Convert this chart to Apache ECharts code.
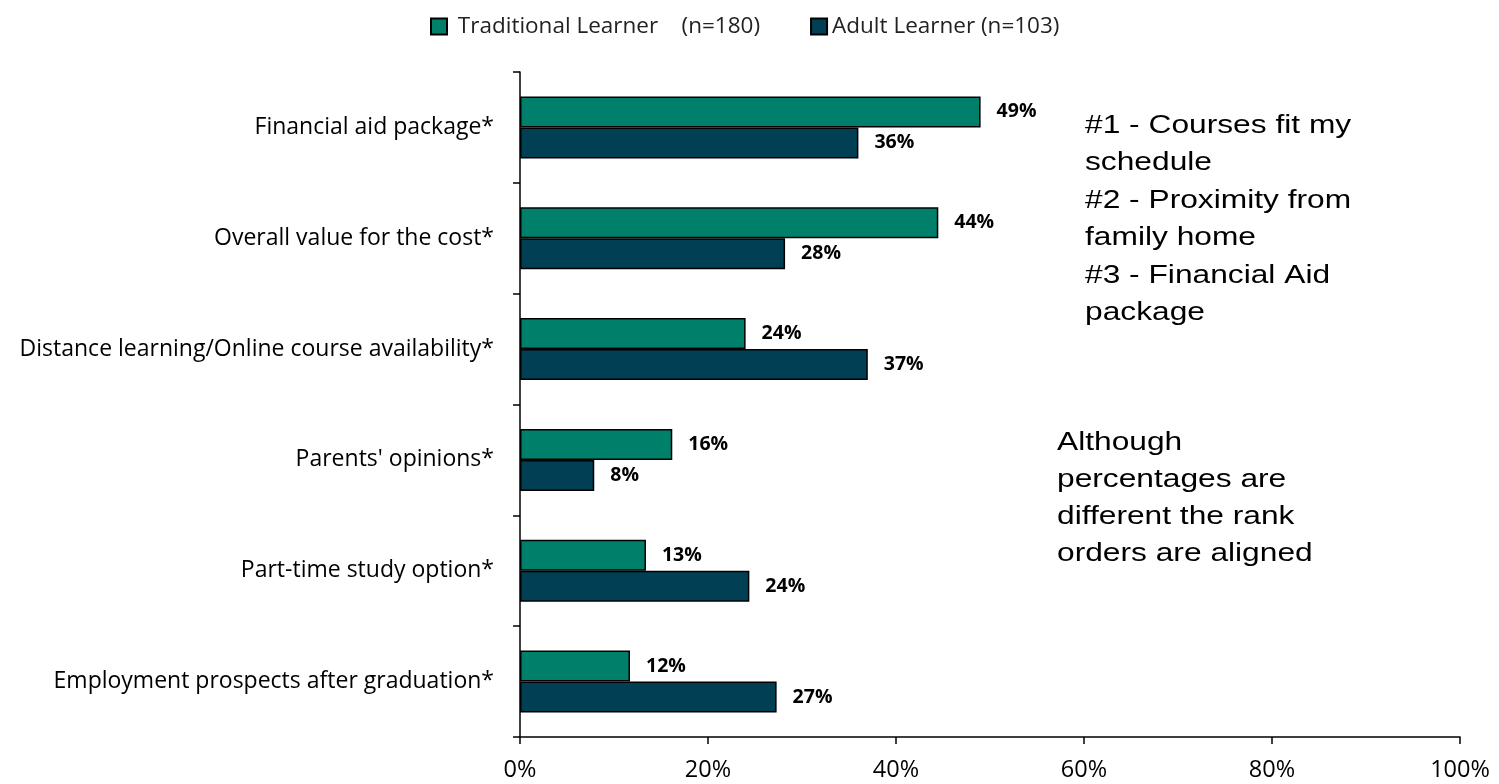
<!DOCTYPE html>
<html>
<head>
<meta charset="utf-8">
<script src="https://cdn.jsdelivr.net/npm/echarts@6/dist/echarts.min.js"></script>
<style>
html,body{margin:0;padding:0;background:#fff;}
#chart{width:1499px;height:784px;}
</style>
</head>
<body>
<div id="chart"></div>
<script>
var categories = [
  "Financial aid package*",
  "Overall value for the cost*",
  "Distance learning/Online course availability*",
  "Parents' opinions*",
  "Part-time study option*",
  "Employment prospects after graduation*"
];
var traditionalValues = [49.0, 44.5, 24.0, 16.2, 13.4, 11.7];
var adultValues = [36.0, 28.2, 37.0, 7.9, 24.4, 27.3];
var traditionalLabels = ["49%", "44%", "24%", "16%", "13%", "12%"];
var adultLabels = ["36%", "28%", "37%", "8%", "24%", "27%"];
var seriesNames = [" Traditional Learner    (n=180)", "Adult Learner (n=103)"];
var xTicks = [0, 20, 40, 60, 80, 100];
var noteTop = "#1 - Courses fit my\nschedule\n#2 - Proximity from\nfamily home\n#3 - Financial Aid\npackage";
var noteBottom = "Although\npercentages are\ndifferent the rank\norders are aligned";

var chart = echarts.init(document.getElementById('chart'));
var labelFont = '"Open Sans", "Noto Sans", sans-serif';
function makeLabel(labels) {
  return {
    show: true,
    position: 'right',
    distance: 16,
    fontFamily: labelFont,
    fontWeight: 'bold',
    fontSize: 19.5,
    color: '#000',
    formatter: function (p) { return labels[p.dataIndex]; }
  };
}
chart.setOption({
  animation: false,
  legend: {
    left: 425,
    top: 10,
    itemWidth: 16,
    itemHeight: 16,
    itemGap: 50,
    icon: 'rect',
    textStyle: { fontFamily: labelFont, fontSize: 22.5, color: '#222' },
    data: seriesNames
  },
  grid: { left: 520, right: 39, top: 72, bottom: 47, containLabel: false },
  xAxis: {
    type: 'value',
    min: xTicks[0],
    max: xTicks[xTicks.length - 1],
    interval: 20,
    splitLine: { show: false },
    axisLine: { show: true, lineStyle: { color: '#000', width: 1.5 } },
    axisTick: { show: true, length: 7, lineStyle: { color: '#000', width: 1.5 } },
    axisLabel: {
      margin: 21,
      fontFamily: labelFont,
      fontSize: 23.5,
      color: '#000',
      formatter: function (v) { return v + '%'; }
    }
  },
  yAxis: {
    type: 'category',
    inverse: true,
    data: categories,
    axisLine: { show: true, lineStyle: { color: '#000', width: 1.5 } },
    axisTick: { show: true, length: 7, lineStyle: { color: '#000', width: 1.5 } },
    axisLabel: {
      margin: 26,
      fontFamily: labelFont,
      fontSize: 23,
      color: '#000'
    }
  },
  series: [
    {
      name: seriesNames[0],
      type: 'bar',
      data: traditionalValues,
      barWidth: 31,
      barGap: '0%',
      itemStyle: { color: '#00806A', borderColor: '#000', borderWidth: 1.5 },
      label: makeLabel(traditionalLabels)
    },
    {
      name: seriesNames[1],
      type: 'bar',
      data: adultValues,
      barWidth: 31,
      barGap: '0%',
      itemStyle: { color: '#013F55', borderColor: '#000', borderWidth: 1.5 },
      label: makeLabel(adultLabels)
    }
  ],
  graphic: [
    {
      type: 'text',
      x: 1085,
      y: 107,
      scaleX: 1.22,
      style: {
        text: noteTop,
        font: '26px "Liberation Sans", Arial, sans-serif',
        lineHeight: 37.5,
        fill: '#000'
      }
    },
    {
      type: 'text',
      x: 1057,
      y: 424,
      scaleX: 1.22,
      style: {
        text: noteBottom,
        font: '26px "Liberation Sans", Arial, sans-serif',
        lineHeight: 37,
        fill: '#000'
      }
    }
  ]
});
</script>
</body>
</html>
